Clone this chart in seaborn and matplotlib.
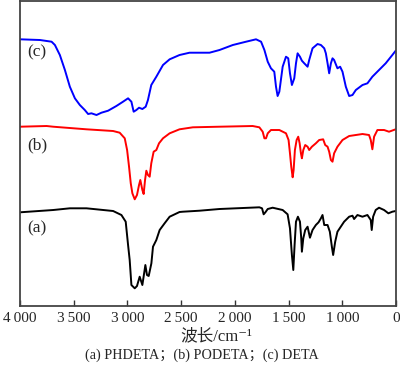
import numpy as np
import pandas as pd
import matplotlib
matplotlib.use("Agg")
import matplotlib.pyplot as plt
import seaborn as sns

# ---- data (wavenumber cm-1, offset intensity) ----
wn_c = [4000, 3814, 3706, 3675, 3629, 3582, 3536, 3489, 3443, 3397, 3366, 3335, 3288, 3242,
        3180, 3103, 3041, 2994, 2963, 2942, 2917, 2892, 2861, 2830, 2809, 2778, 2731, 2669,
        2607, 2515, 2422, 2329, 2236, 2143, 2019, 1896, 1803, 1756, 1725, 1694, 1664, 1633,
        1617, 1602, 1586, 1555, 1524, 1503, 1487, 1469, 1447, 1431, 1416, 1394, 1376, 1354,
        1323, 1308, 1277, 1230, 1199, 1168, 1153, 1137, 1122, 1106, 1091, 1076, 1045, 1020,
        998, 967, 936, 905, 874, 812, 766, 720, 658, 596, 534, 503]
y_c = [266.7, 266, 264.3, 261, 251, 236, 219.3, 207.7, 201, 196, 192, 192.7, 191, 193.3,
       195.3, 200, 204.3, 207.7, 204.3, 194.3, 196, 198.3, 197, 199.3, 206, 221, 229.3, 241,
       246.7, 251, 253.3, 253.3, 253.3, 256, 261, 264.3, 266.7, 264.3, 256, 244.3, 237.7, 234.3,
       219.3, 210, 214.3, 239.3, 249.3, 247.7, 232.7, 221, 227.7, 242.7, 252.7, 249.3, 245.3, 242.7,
       239.3, 246, 257.7, 262, 261, 257.7, 252.7, 242.7, 232.7, 242.7, 247.7, 246, 237.7, 239.3,
       234.3, 219.3, 210, 211, 216, 221, 222.7, 229.3, 236, 242.7, 251, 255.3]

wn_b = [4000, 3752, 3691, 3381, 3133, 3072, 3025, 3003, 2985, 2969, 2954, 2932, 2911, 2892,
        2880, 2861, 2849, 2836, 2824, 2809, 2793, 2778, 2756, 2731, 2706, 2669, 2607, 2515,
        2391, 2143, 1834, 1772, 1741, 1725, 1710, 1694, 1664, 1586, 1524, 1500, 1487, 1475,
        1462, 1453, 1441, 1425, 1410, 1397, 1385, 1376, 1363, 1345, 1323, 1308, 1283, 1246,
        1215, 1178, 1159, 1137, 1122, 1106, 1091, 1076, 1045, 998, 936, 874, 812, 751, 735,
        720, 704, 673, 611, 565, 503]
y_b = [179.3, 180, 179.3, 176.7, 175, 173.3, 167.7, 156, 139.3, 122.7, 112.7, 106.7, 111, 121,
       126, 116, 112, 126, 135.3, 131, 129.3, 142.7, 154.3, 156, 162.7, 167.7, 172.7, 176.7,
       178.7, 179.3, 180, 178.7, 174.3, 167.7, 167.7, 172.7, 176, 176, 172.7, 166, 152.7, 139.3,
       128.7, 136, 156, 166, 169.3, 162.7, 152.7, 147.7, 156, 161, 159.3, 156, 159.3, 162.7,
       166, 166.7, 161, 159.3, 154.3, 146, 144.3, 152.7, 159.3, 166, 170, 171, 172, 171, 166,
       156.7, 169.3, 176, 176, 174.3, 176.7]

wn_a = [4000, 3691, 3536, 3381, 3133, 3056, 3016, 2994, 2979, 2963, 2932, 2911, 2886, 2861,
        2833, 2818, 2802, 2777, 2762, 2731, 2700, 2654, 2607, 2515, 2484, 2329, 2143, 1772,
        1747, 1732, 1716, 1694, 1648, 1555, 1509, 1487, 1469, 1456, 1444, 1431, 1413, 1394,
        1382, 1376, 1363, 1345, 1323, 1301, 1277, 1246, 1221, 1199, 1184, 1168, 1137, 1116,
        1097, 1085, 1066, 1045, 1014, 983, 936, 905, 890, 859, 812, 766, 735, 726, 713, 689,
        658, 611, 571, 534, 503]
y_a = [93.7, 96, 97.7, 97.7, 95, 91, 84.3, 61, 46, 21, 17.7, 20, 29.3, 21,
       41, 31, 30, 42.7, 59.3, 66, 76, 82.7, 89.3, 94, 94.3, 95.3, 97, 98.7,
       97.7, 91.7, 93.7, 97, 98.3, 96, 91.7, 77.7, 51, 36, 61, 84.3, 89.3, 84.3,
       67.7, 54.3, 67.7, 76, 79.3, 68.3, 76, 81, 83.7, 87.7, 91, 81, 81, 74.3,
       59.3, 51, 64.3, 74.3, 79.3, 84.3, 89.3, 90.3, 87, 91, 89.3, 91, 86, 76, 89.3, 96,
       98.3, 96, 92.7, 94.3, 95]

series_names = ["(a)", "(b)", "(c)"]
series_colors = ["#000000", "#ff0000", "#0000ff"]
tick_values = [4000, 3500, 3000, 2500, 2000, 1500, 1000, 500]
tick_labels = ["4\u2009000", "3\u2009500", "3\u2009000", "2\u2009500", "2\u2009000",
               "1\u2009500", "1\u2009000", "0"]
label_y = [228, 145, 52]  # label pixel rows (from top)

frames = []
for name, wn, yy in zip(series_names, [wn_a, wn_b, wn_c], [y_a, y_b, y_c]):
    frames.append(pd.DataFrame({"wn": wn, "y": yy, "s": name}))
df = pd.concat(frames, ignore_index=True)

sns.set_style("white")
plt.rcParams["font.family"] = ["Liberation Serif", "Noto Sans CJK SC", "DejaVu Sans"]

fig = plt.figure(figsize=(4.0, 3.74), dpi=100)
ax = fig.add_axes([0.05, 0.1818, 0.94, 0.8155])

sns.lineplot(data=df, x="wn", y="y", hue="s", palette=dict(zip(series_names, series_colors)),
             sort=False, estimator=None, linewidth=1.4, legend=False, ax=ax)

ax.set_xlim(4000, 500)
ax.set_ylim(0, 305)
ax.set_xticks(tick_values)
ax.set_xticklabels(tick_labels, fontsize=11)
ax.set_yticks([])
ax.tick_params(axis="x", direction="in", length=4, width=1, color="#333333", pad=4,
               bottom=True, top=False)
for sp in ax.spines.values():
    sp.set_color("#444444")
    sp.set_linewidth(1.3)
ax.set_xlabel("")
ax.set_ylabel("")
fig.text(0.54, 1 - 336 / 374, "波长/cm\u207b\u00b9", fontsize=12, ha="center", va="center")

for name, py in zip(series_names, label_y):
    ax.text(3930, 306 - py, name, fontsize=12.5, ha="left", va="center")

fig.text(0.505, 1 - 355 / 374, "(a) PHDETA；(b) PODETA；(c) DETA", fontsize=10.2,
         ha="center", va="center")

fig.savefig("out.png", dpi=100)
